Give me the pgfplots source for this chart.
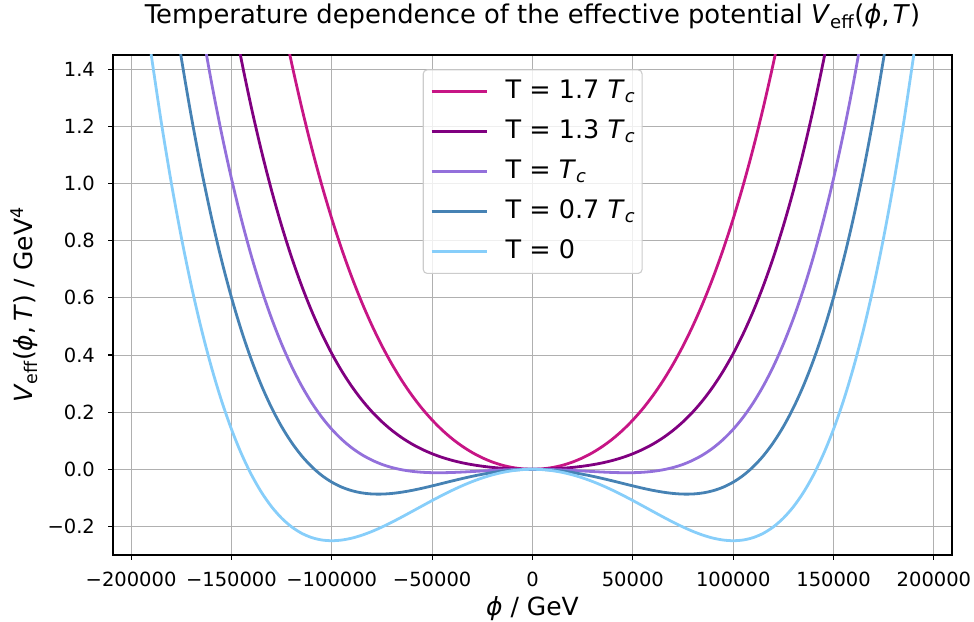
\documentclass[border=0pt]{standalone}
\usepackage{fontspec}
\setmainfont{DejaVu Sans}
\usepackage{amsmath}
\usepackage{pgfplots}
\pgfplotsset{compat=1.18}
\definecolor{cA}{RGB}{199,21,133}
\definecolor{cB}{RGB}{128,0,128}
\definecolor{cC}{RGB}{147,112,219}
\definecolor{cD}{RGB}{70,130,180}
\definecolor{cE}{RGB}{135,206,250}
\definecolor{gridgray}{RGB}{176,176,176}
\definecolor{leggray}{RGB}{204,204,204}
\begin{document}
\begin{tikzpicture}
\useasboundingbox (-113pt,-66pt) rectangle (861pt,555pt);
\begin{axis}[
  at={(0pt,0pt)}, anchor=south west,
  scale only axis, width=839pt, height=500pt,
  xmin=-209000, xmax=209000, ymin=-0.3, ymax=1.45,
  scaled ticks=false,
  xtick={-200000,-150000,-100000,-50000,0,50000,100000,150000,200000},
  xticklabels={−200000,−150000,−100000,−50000,0,50000,100000,150000,200000},
  ytick={-0.2,0,0.2,0.4,0.6,0.8,1.0,1.2,1.4},
  yticklabels={−0.2,0.0,0.2,0.4,0.6,0.8,1.0,1.2,1.4},
  xtick pos=lower, ytick pos=left,
  tick align=outside, major tick length=4.9pt,
  every tick/.style={black, line width=1.1pt},
  axis line style={black, line width=1.1pt},
  grid=major,
  major grid style={color=gridgray, line width=0.9pt},
  tick label style={font=\fontsize{19.5}{23}\selectfont, inner sep=0pt},
  xticklabel style={anchor=base, yshift=-26.4pt},
  yticklabel style={anchor=east, xshift=-13pt},
  title={Temperature dependence of the effective potential \textit{V}\textsubscript{eff}(\textit{ϕ},\hspace{0.12em}\textit{T})},
  title style={at={(axis description cs:0.5,1.0514)}, anchor=base, font=\fontsize{25.8}{30}\selectfont, inner sep=0pt},
  xlabel={\textit{ϕ} / GeV},
  xlabel style={at={(axis description cs:0.5,-0.1208)}, anchor=base, font=\fontsize{25}{30}\selectfont, inner sep=0pt},
  ylabel={\textit{V}\textsubscript{eff}(\textit{ϕ},\hspace{0.2em}\textit{T}) / GeV\textsuperscript{4}},
  ylabel style={at={(axis description cs:-0.0954,0.5)}, anchor=base, rotate=0, font=\fontsize{25}{30}\selectfont, inner sep=0pt},
  legend style={
    at={(axis description cs:0.3691,0.9714)}, anchor=north west,
    draw=leggray, line width=1.1pt, rounded corners=4pt,
    fill=white, fill opacity=0.8, text opacity=1,
    font=\fontsize{25.5}{30}\selectfont,
    inner xsep=7pt, inner ysep=9pt,
    row sep=13.9pt,
    nodes={inner sep=0pt, text height=20pt, text depth=6pt},
    /tikz/every odd column/.append style={column sep=17.7pt},
  },
  legend cell align=left,
  legend image code/.code={\draw[#1, line width=2.8pt] (0pt,0pt) -- (55pt,0pt);},
  every axis plot/.append style={line width=2.8pt, smooth},
]
\addplot[cA] coordinates {(-125000,1.5900) (-120000,1.4213) (-115000,1.2665) (-110000,1.1247) (-105000,0.9951) (-100000,0.8770) (-95000,0.7695) (-90000,0.6719) (-85000,0.5835) (-80000,0.5037) (-75000,0.4318) (-70000,0.3673) (-65000,0.3095) (-60000,0.2581) (-55000,0.2125) (-50000,0.1724) (-45000,0.1372) (-40000,0.1067) (-35000,0.0806) (-30000,0.0585) (-25000,0.0402) (-20000,0.0255) (-15000,0.0142) (-10000,0.0063) (-5000,0.0016) (0,0) (5000,0.0016) (10000,0.0063) (15000,0.0142) (20000,0.0255) (25000,0.0402) (30000,0.0585) (35000,0.0806) (40000,0.1067) (45000,0.1372) (50000,0.1724) (55000,0.2125) (60000,0.2581) (65000,0.3095) (70000,0.3673) (75000,0.4318) (80000,0.5037) (85000,0.5835) (90000,0.6719) (95000,0.7695) (100000,0.8770) (105000,0.9951) (110000,1.1247) (115000,1.2665) (120000,1.4213) (125000,1.5900)};
\addlegendentry{T = 1.7 \textit{T}\textsubscript{\textit{c}}}
\addplot[cB] coordinates {(-150000,1.6144) (-145000,1.4310) (-140000,1.2642) (-135000,1.1129) (-130000,0.9760) (-125000,0.8525) (-120000,0.7416) (-115000,0.6422) (-110000,0.5536) (-105000,0.4748) (-100000,0.4050) (-95000,0.3435) (-90000,0.2896) (-85000,0.2425) (-80000,0.2016) (-75000,0.1663) (-70000,0.1360) (-65000,0.1101) (-60000,0.0882) (-55000,0.0698) (-50000,0.0544) (-45000,0.0416) (-40000,0.0312) (-35000,0.0227) (-30000,0.0160) (-25000,0.0107) (-20000,0.0066) (-15000,0.0036) (-10000,0.0016) (-5000,0.0004) (0,0) (5000,0.0004) (10000,0.0016) (15000,0.0036) (20000,0.0066) (25000,0.0107) (30000,0.0160) (35000,0.0227) (40000,0.0312) (45000,0.0416) (50000,0.0544) (55000,0.0698) (60000,0.0882) (65000,0.1101) (70000,0.1360) (75000,0.1663) (80000,0.2016) (85000,0.2425) (90000,0.2896) (95000,0.3435) (100000,0.4050) (105000,0.4748) (110000,0.5536) (115000,0.6422) (120000,0.7416) (125000,0.8525) (130000,0.9760) (135000,1.1129) (140000,1.2642) (145000,1.4310) (150000,1.6144)};
\addlegendentry{T = 1.3 \textit{T}\textsubscript{\textit{c}}}
\addplot[cC] coordinates {(-165000,1.5535) (-160000,1.3568) (-155000,1.1787) (-150000,1.0181) (-145000,0.8739) (-140000,0.7448) (-135000,0.6299) (-130000,0.5281) (-125000,0.4385) (-120000,0.3600) (-115000,0.2918) (-110000,0.2329) (-105000,0.1826) (-100000,0.1400) (-95000,0.1044) (-90000,0.0749) (-85000,0.0510) (-80000,0.0320) (-75000,0.0172) (-70000,0.0061) (-65000,-0.0018) (-60000,-0.0072) (-55000,-0.0104) (-50000,-0.0119) (-45000,-0.0120) (-40000,-0.0112) (-35000,-0.0097) (-30000,-0.0079) (-25000,-0.0059) (-20000,-0.0040) (-15000,-0.0023) (-10000,-0.0011) (-5000,-0.0003) (0,0) (5000,-0.0003) (10000,-0.0011) (15000,-0.0023) (20000,-0.0040) (25000,-0.0059) (30000,-0.0079) (35000,-0.0097) (40000,-0.0112) (45000,-0.0120) (50000,-0.0119) (55000,-0.0104) (60000,-0.0072) (65000,-0.0018) (70000,0.0061) (75000,0.0172) (80000,0.0320) (85000,0.0510) (90000,0.0749) (95000,0.1044) (100000,0.1400) (105000,0.1826) (110000,0.2329) (115000,0.2918) (120000,0.3600) (125000,0.4385) (130000,0.5281) (135000,0.6299) (140000,0.7448) (145000,0.8739) (150000,1.0181) (155000,1.1787) (160000,1.3568) (165000,1.5535)};
\addlegendentry{T = \textit{T}\textsubscript{\textit{c}}}
\addplot[cD] coordinates {(-180000,1.6686) (-175000,1.4413) (-170000,1.2355) (-165000,1.0499) (-160000,0.8832) (-155000,0.7342) (-150000,0.6019) (-145000,0.4849) (-140000,0.3822) (-135000,0.2927) (-130000,0.2155) (-125000,0.1494) (-120000,0.0936) (-115000,0.0471) (-110000,0.0091) (-105000,-0.0214) (-100000,-0.0450) (-95000,-0.0626) (-90000,-0.0749) (-85000,-0.0826) (-80000,-0.0864) (-75000,-0.0868) (-70000,-0.0845) (-65000,-0.0800) (-60000,-0.0738) (-55000,-0.0664) (-50000,-0.0581) (-45000,-0.0495) (-40000,-0.0408) (-35000,-0.0324) (-30000,-0.0245) (-25000,-0.0175) (-20000,-0.0114) (-15000,-0.0065) (-10000,-0.0029) (-5000,-0.0007) (0,0) (5000,-0.0007) (10000,-0.0029) (15000,-0.0065) (20000,-0.0114) (25000,-0.0175) (30000,-0.0245) (35000,-0.0324) (40000,-0.0408) (45000,-0.0495) (50000,-0.0581) (55000,-0.0664) (60000,-0.0738) (65000,-0.0800) (70000,-0.0845) (75000,-0.0868) (80000,-0.0864) (85000,-0.0826) (90000,-0.0749) (95000,-0.0626) (100000,-0.0450) (105000,-0.0214) (110000,0.0091) (115000,0.0471) (120000,0.0936) (125000,0.1494) (130000,0.2155) (135000,0.2927) (140000,0.3822) (145000,0.4849) (150000,0.6019) (155000,0.7342) (160000,0.8832) (165000,1.0499) (170000,1.2355) (175000,1.4413) (180000,1.6686)};
\addlegendentry{T = 0.7 \textit{T}\textsubscript{\textit{c}}}
\addplot[cE] coordinates {(-190000,1.4530) (-185000,1.2171) (-180000,1.0044) (-175000,0.8135) (-170000,0.6430) (-165000,0.4918) (-160000,0.3584) (-155000,0.2417) (-150000,0.1406) (-145000,0.0539) (-140000,-0.0196) (-135000,-0.0809) (-130000,-0.1310) (-125000,-0.1709) (-120000,-0.2016) (-115000,-0.2240) (-110000,-0.2390) (-105000,-0.2474) (-100000,-0.2500) (-95000,-0.2476) (-90000,-0.2410) (-85000,-0.2307) (-80000,-0.2176) (-75000,-0.2021) (-70000,-0.1850) (-65000,-0.1666) (-60000,-0.1476) (-55000,-0.1284) (-50000,-0.1094) (-45000,-0.0910) (-40000,-0.0736) (-35000,-0.0575) (-30000,-0.0430) (-25000,-0.0303) (-20000,-0.0196) (-15000,-0.0111) (-10000,-0.0050) (-5000,-0.0012) (0,0) (5000,-0.0012) (10000,-0.0050) (15000,-0.0111) (20000,-0.0196) (25000,-0.0303) (30000,-0.0430) (35000,-0.0575) (40000,-0.0736) (45000,-0.0910) (50000,-0.1094) (55000,-0.1284) (60000,-0.1476) (65000,-0.1666) (70000,-0.1850) (75000,-0.2021) (80000,-0.2176) (85000,-0.2307) (90000,-0.2410) (95000,-0.2476) (100000,-0.2500) (105000,-0.2474) (110000,-0.2390) (115000,-0.2240) (120000,-0.2016) (125000,-0.1709) (130000,-0.1310) (135000,-0.0809) (140000,-0.0196) (145000,0.0539) (150000,0.1406) (155000,0.2417) (160000,0.3584) (165000,0.4918) (170000,0.6430) (175000,0.8135) (180000,1.0044) (185000,1.2171) (190000,1.4530)};
\addlegendentry{T = 0}
\node[anchor=base west, inner sep=0pt, font=\fontsize{14.5}{17}\selectfont] at ([yshift=4.3pt]rel axis cs:0,1) {1e11};
\end{axis}
\end{tikzpicture}
\end{document}
